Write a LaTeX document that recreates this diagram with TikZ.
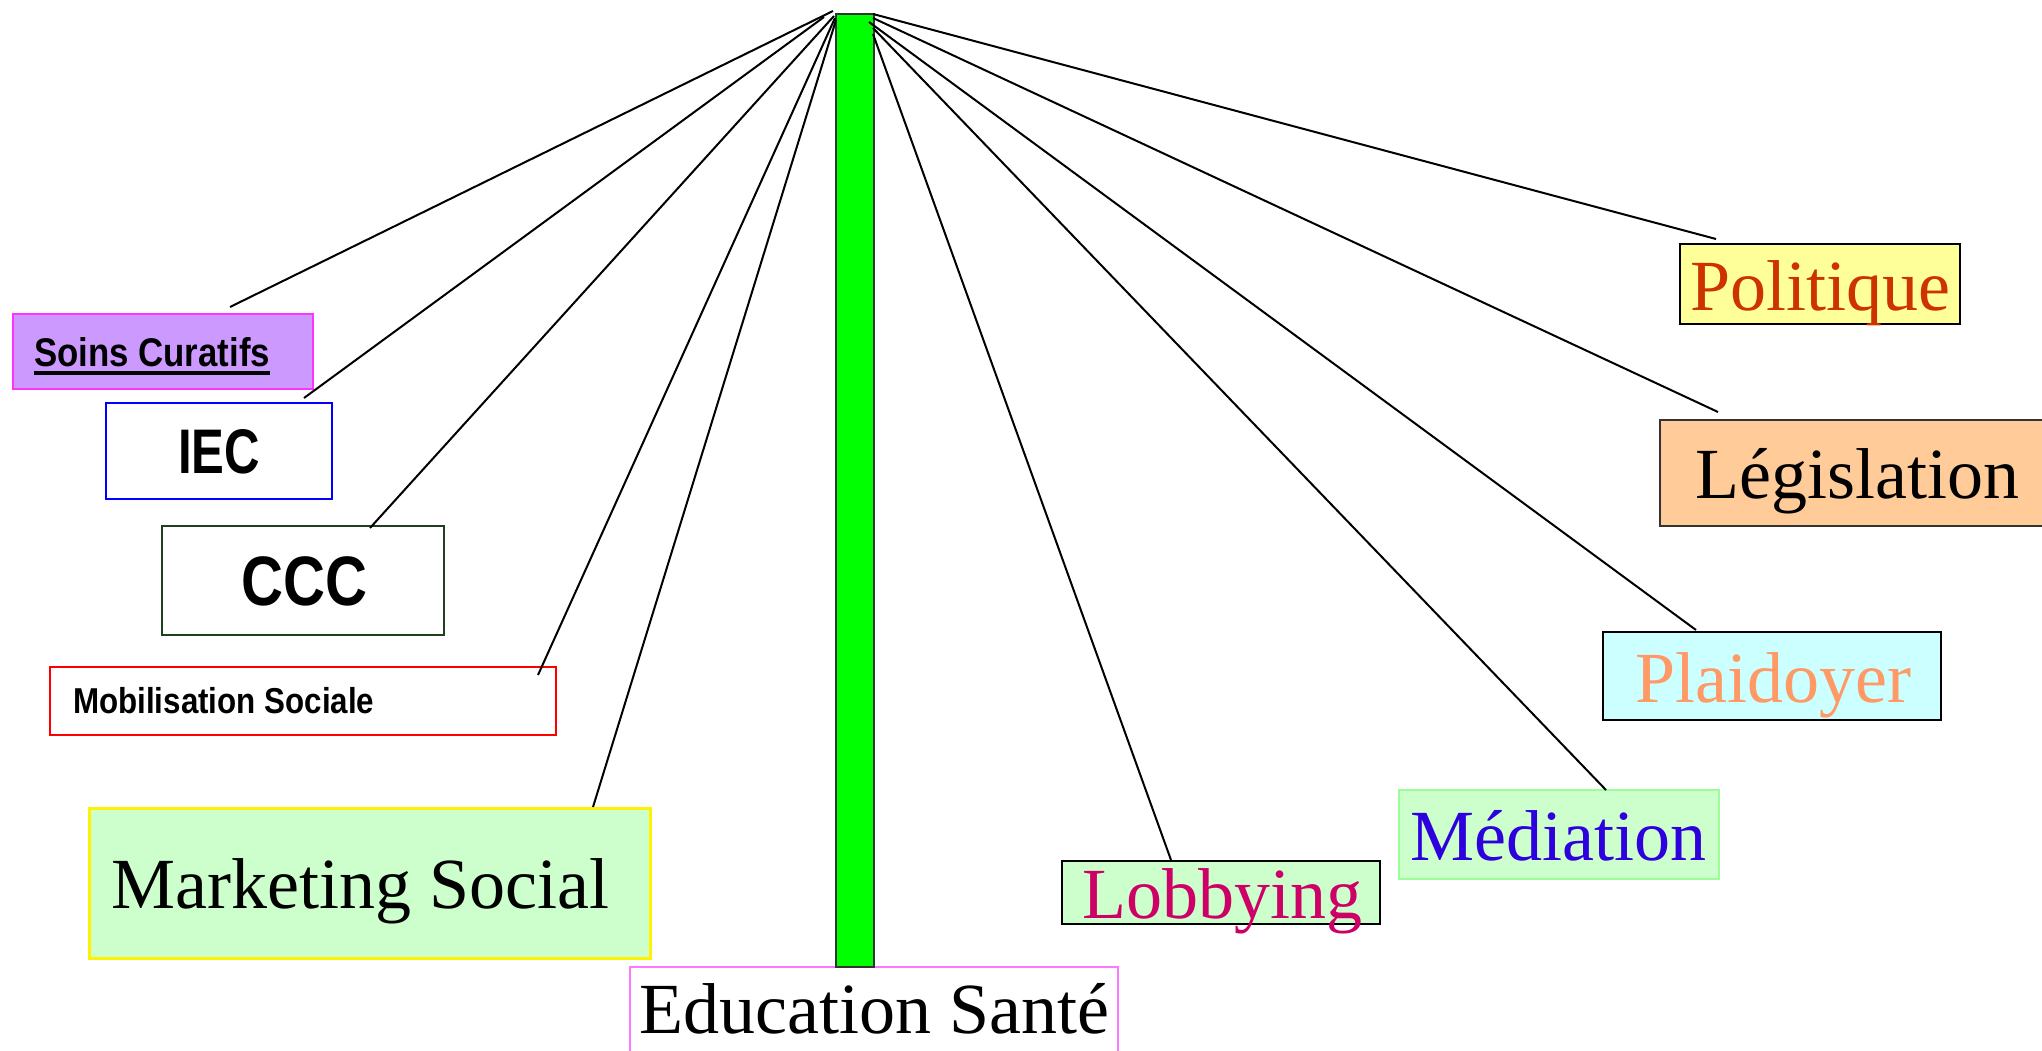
\documentclass[tikz,border=0pt]{standalone}
\usepackage{fontspec}
\setmainfont{Liberation Serif}
\newfontfamily\narrowA[FakeStretch=0.87]{Liberation Sans}
\newfontfamily\narrowB[FakeStretch=0.78]{Liberation Sans}
\newfontfamily\narrowC[FakeStretch=0.83]{Liberation Sans}
\definecolor{cPurple}{HTML}{CC99FF}
\definecolor{cMagenta}{HTML}{FF33FF}
\definecolor{cDkGreen}{HTML}{1F3F1F}
\definecolor{cPaleGreen}{HTML}{CCFFCC}
\definecolor{cPink}{HTML}{FF77FF}
\definecolor{cBar}{HTML}{00FF00}
\definecolor{cLtGreen}{HTML}{99FF99}
\definecolor{cPaleCyan}{HTML}{CCFFFF}
\definecolor{cPeach}{HTML}{FFCC99}
\definecolor{cPaleYellow}{HTML}{FFFF99}
\definecolor{tPol}{HTML}{CC3300}
\definecolor{tPla}{HTML}{FF9966}
\definecolor{tMed}{HTML}{2E00DD}
\definecolor{tLob}{HTML}{CC0066}
\newcommand\thickul[1]{\setbox0\hbox{#1}\leavevmode\rlap{\rule[-9pt]{\wd0}{4pt}}\box0}
\begin{document}
\begin{tikzpicture}[x=1pt,y=-1pt,
  box/.style={draw, inner sep=0pt, anchor=north west, line width=2pt},
  lbl/.style={anchor=base west, inner sep=0pt},
  serif72/.style={font=\fontsize{72}{80}\selectfont},
  link/.style={draw=black, line width=2pt}]
\useasboundingbox (0,0) rectangle (2042,1051);

% boxes
\node[box, draw=cMagenta, fill=cPurple, minimum width=300pt, minimum height=75pt] (soins) at (12,313) {};
\node[box, draw=blue, fill=white, minimum width=226pt, minimum height=96pt] (iec) at (105,402) {};
\node[box, draw=cDkGreen, fill=white, minimum width=282pt, minimum height=109pt] (ccc) at (161,525) {};
\node[box, draw=red, fill=white, minimum width=506pt, minimum height=68pt] (mob) at (49,666) {};
\node[box, draw=yellow, line width=3pt, fill=cPaleGreen, minimum width=561pt, minimum height=150pt] (mkt) at (88,807) {};
\node[box, draw=cPink, fill=white, minimum width=488pt, minimum height=130pt] (edu) at (629,966) {};
\node[box, draw=black!80, fill=cBar, minimum width=38pt, minimum height=953pt] (bar) at (835,13) {};
\node[box, draw=black, fill=cPaleGreen, minimum width=318pt, minimum height=63pt] (lob) at (1061,860) {};
\node[box, draw=cLtGreen, fill=cPaleGreen, minimum width=320pt, minimum height=89pt] (med) at (1398,789) {};
\node[box, draw=black, fill=cPaleCyan, minimum width=338pt, minimum height=88pt] (pla) at (1602,631) {};
\node[box, draw=black!80, fill=cPeach, minimum width=400pt, minimum height=106pt] (leg) at (1659,419) {};
\node[box, draw=black, fill=cPaleYellow, minimum width=280pt, minimum height=80pt] (pol) at (1679,243) {};

% texts
\node[lbl, font=\narrowA\bfseries\fontsize{40}{44}\selectfont] (tsoins) at (34,366) {\thickul{Soins Curatifs}};
\node[lbl, font=\narrowB\bfseries\fontsize{63}{70}\selectfont] (tiec) at (178,473) {IEC};
\node[lbl, font=\narrowC\bfseries\fontsize{70}{78}\selectfont] (tccc) at (241,605) {CCC};
\node[lbl, font=\narrowA\bfseries\fontsize{36}{40}\selectfont] (tmob) at (73,713) {Mobilisation Sociale};
\node[lbl, serif72] (tmkt) at (111,908) {Marketing Social};
\node[lbl, serif72] (tedu) at (639,1033) {Education Santé};
\node[lbl, serif72, text=tLob] (tlob) at (1082,918) {Lobbying};
\node[lbl, serif72, text=tMed] (tmed) at (1410,860) {Médiation};
\node[lbl, serif72, text=tPla] (tpla) at (1635,702) {Plaidoyer};
\node[lbl, serif72] (tleg) at (1695,498) {Législation};
\node[lbl, serif72, text=tPol] (tpol) at (1690,310) {Politique};

% connector end points
\coordinate (hSoins) at (833,11);
\coordinate (hIec) at (824,17);
\coordinate (hCcc) at (834,16);
\coordinate (hMob) at (835,18);
\coordinate (hMkt) at (836,20);
\coordinate (hPol) at (873,14);
\coordinate (hLeg) at (873,18);
\coordinate (hPla) at (869,22);
\coordinate (hMed) at (873,28);
\coordinate (hLob) at (873,34);

\coordinate (eSoins) at (230,307);
\coordinate (eIec) at (304,398);
\coordinate (eCcc) at (370,528);
\coordinate (eMob) at (538,675);
\coordinate (eMkt) at (593,807);
\coordinate (ePol) at (1716,239);
\coordinate (eLeg) at (1718,412);
\coordinate (ePla) at (1696,630);
\coordinate (eMed) at (1606,790);
\coordinate (eLob) at (1171,860);

\draw[link] (hSoins) -- (eSoins);
\draw[link] (hIec) -- (eIec);
\draw[link] (hCcc) -- (eCcc);
\draw[link] (hMob) -- (eMob);
\draw[link] (hMkt) -- (eMkt);
\draw[link] (hPol) -- (ePol);
\draw[link] (hLeg) -- (eLeg);
\draw[link] (hPla) -- (ePla);
\draw[link] (hMed) -- (eMed);
\draw[link] (hLob) -- (eLob);
\end{tikzpicture}
\end{document}
